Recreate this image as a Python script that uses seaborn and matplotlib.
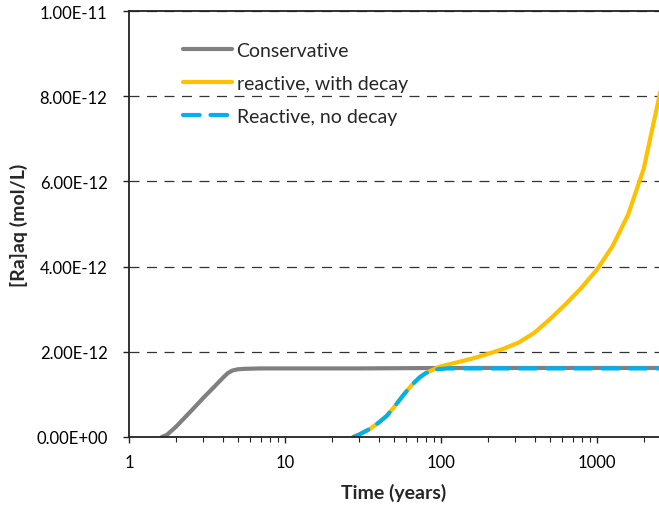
import numpy as np
import pandas as pd
import matplotlib
matplotlib.use("Agg")
import matplotlib.pyplot as plt
import seaborn as sns
from matplotlib.ticker import FuncFormatter, LogLocator, NullFormatter

# ---- data (values in 1e-12 mol/L) ----
t_cons = [1.62, 1.75, 2.0, 2.5, 3.0, 3.5, 4.0, 4.3, 4.6, 5.0, 5.5, 7, 10, 30, 100, 300, 1000, 2600]
y_cons = [0.0, 0.05, 0.24, 0.61, 0.92, 1.17, 1.39, 1.50, 1.56, 1.59, 1.60, 1.61, 1.61, 1.61, 1.62, 1.62, 1.62, 1.62]

t_decay = [27.4, 30, 35, 40, 45, 50, 57, 65, 73, 80, 88, 95, 100, 126, 158, 200, 251, 316,
           398, 501, 631, 794, 1000, 1259, 1585, 1995, 2512, 2818]
y_decay = [0.0, 0.06, 0.19, 0.34, 0.50, 0.70, 0.97, 1.22, 1.40, 1.50, 1.57, 1.63, 1.66, 1.75,
           1.84, 1.95, 2.07, 2.22, 2.45, 2.77, 3.12, 3.50, 3.93, 4.48, 5.22, 6.30, 8.00, 9.00]

t_nodecay = [27.4, 30, 35, 40, 45, 50, 57, 65, 73, 80, 88, 95, 110, 150, 300, 1000, 2600]
y_nodecay = [0.0, 0.06, 0.19, 0.34, 0.50, 0.70, 0.97, 1.22, 1.40, 1.50, 1.55, 1.59, 1.61, 1.61,
             1.61, 1.61, 1.61]

labels = ["Conservative", "reactive, with decay", "Reactive, no decay"]
y_ticks = [0, 2e-12, 4e-12, 6e-12, 8e-12, 1e-11]
x_ticks = [1, 10, 100, 1000]

sns.set_style("white")
plt.rcParams["font.family"] = ["Lato", "DejaVu Sans"]

fig = plt.figure(figsize=(6.59, 5.06), dpi=100)
ax = fig.add_axes([129 / 659, 1 - 438 / 506, 1 - 129 / 659, (438 - 12) / 506])

sns.lineplot(x=t_cons, y=np.array(y_cons) * 1e-12, ax=ax, color="#808080", lw=3,
             label=labels[0], solid_capstyle="round", solid_joinstyle="round")
sns.lineplot(x=t_decay, y=np.array(y_decay) * 1e-12, ax=ax, color="#FFC000", lw=3,
             label=labels[1], solid_capstyle="round", solid_joinstyle="round")
sns.lineplot(x=t_nodecay, y=np.array(y_nodecay) * 1e-12, ax=ax, color="#00B0F0", lw=3,
             label=labels[2], linestyle=(0, (4, 2.6)), dash_capstyle="round")

ax.set_xscale("log")
ax.set_xlim(1, 2500)
ax.set_ylim(0, 1e-11)
ax.set_yticks(y_ticks)
ax.yaxis.set_major_formatter(FuncFormatter(lambda v, p: ("%.2E" % v)))
ax.set_xticks(x_ticks)
ax.set_xticklabels([str(v) for v in x_ticks])
ax.xaxis.set_minor_locator(LogLocator(base=10, subs=np.arange(2, 10)))
ax.xaxis.set_minor_formatter(NullFormatter())

for yv in y_ticks[1:]:
    ax.axhline(yv, color="#333333", lw=0.9, linestyle=(0, (8, 6)), zorder=0)

for s in ["left", "bottom", "top"]:
    ax.spines[s].set_visible(True)
    ax.spines[s].set_color("#222222")
    ax.spines[s].set_linewidth(1.3)
ax.spines["right"].set_visible(False)

ax.tick_params(axis="both", which="major", direction="out", length=4.5, width=1, colors="#222222",
               labelsize=12, labelcolor="black", bottom=True, left=True)
ax.tick_params(axis="x", which="minor", direction="out", length=3.5, width=0.8, colors="#222222",
               bottom=True)
ax.tick_params(axis="x", which="major", pad=8)
ax.tick_params(axis="y", which="major", pad=11)

ax.set_xlabel("Time (years)", fontsize=14, fontweight="bold", labelpad=9)
ax.set_ylabel("[Ra]aq (mol/L)", fontsize=14, fontweight="bold", labelpad=6)

leg = ax.legend(loc="upper left", bbox_to_anchor=(0.102, 0.928), frameon=False, fontsize=14,
                handlelength=2.5, handletextpad=0.25, labelspacing=0.83,
                borderaxespad=0, borderpad=0)

fig.savefig("out.png", dpi=100)
